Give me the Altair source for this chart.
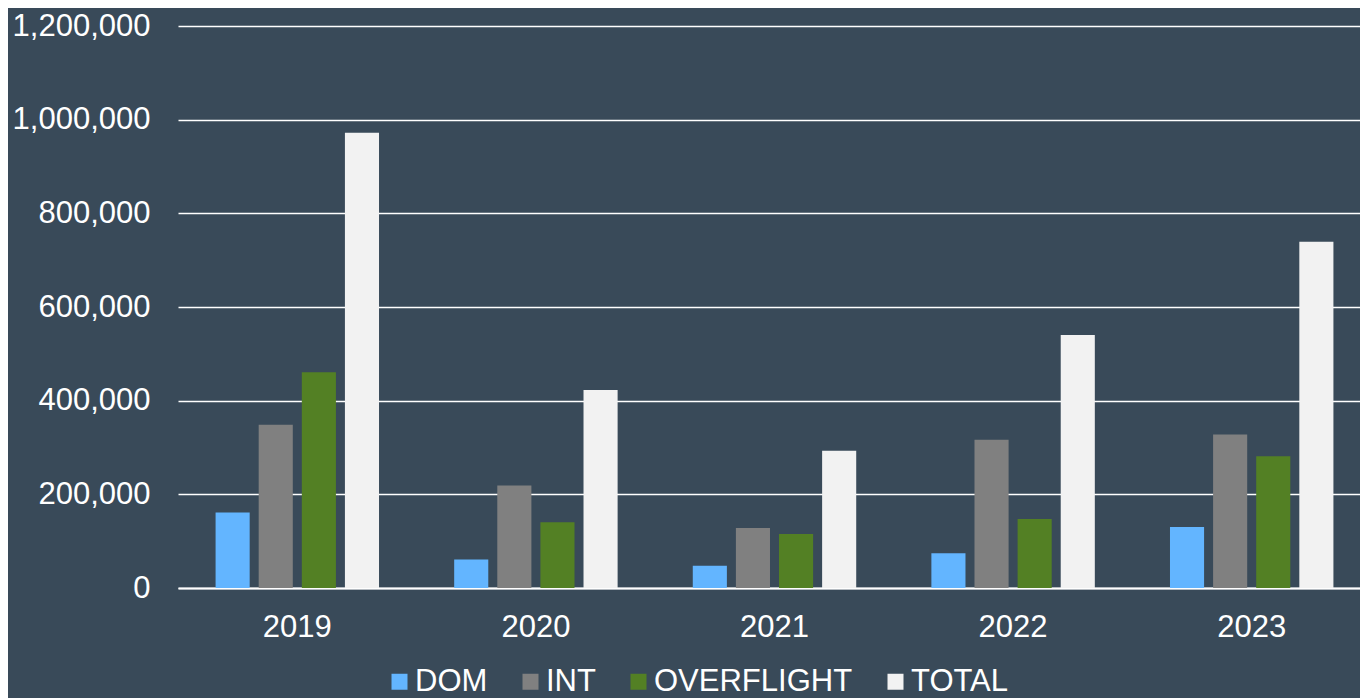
import altair as alt
import pandas as pd

years = ["2019", "2020", "2021", "2022", "2023"]
series = ["DOM", "INT", "OVERFLIGHT", "TOTAL"]
dom = [161000, 61000, 47300, 74300, 130500]
intl = [348400, 219000, 128000, 316300, 327900]
overflight = [460900, 140500, 115300, 147100, 281200]
total = [972300, 422700, 293000, 540000, 739500]
colors = ["#63B5FF", "#808080", "#538024", "#F2F2F2"]
y_ticks = [0, 200000, 400000, 600000, 800000, 1000000, 1200000]

rows = []
for name, vals in zip(series, [dom, intl, overflight, total]):
    for yr, v in zip(years, vals):
        rows.append({"year": yr, "series": name, "value": v})
df = pd.DataFrame(rows)

FONT = "Liberation Sans"

chart = (
    alt.Chart(df)
    .mark_bar()
    .encode(
        x=alt.X(
            "year:N",
            sort=years,
            title=None,
            scale=alt.Scale(paddingInner=0.315, paddingOuter=0.1575, range=[0, 1193]),
            axis=alt.Axis(
                labelAngle=0,
                labelFontSize=31,
                labelColor="#FFFFFF",
                labelFont=FONT,
                labelPadding=24,
                ticks=False,
                domain=True,
                domainColor="#FFFFFF",
                domainWidth=2,
                grid=False,
            ),
        ),
        xOffset=alt.XOffset(
            "series:N",
            sort=series,
            scale=alt.Scale(paddingInner=0.209, paddingOuter=0),
        ),
        y=alt.Y(
            "value:Q",
            title=None,
            scale=alt.Scale(domain=[0, 1200000], nice=False),
            axis=alt.Axis(
                values=y_ticks,
                format=",d",
                labelFontSize=31,
                labelColor="#FFFFFF",
                labelFont=FONT,
                labelPadding=28,
                ticks=False,
                domain=False,
                grid=True,
                gridColor="#FFFFFF",
                gridWidth=1.5,
            ),
        ),
        color=alt.Color(
            "series:N",
            sort=series,
            scale=alt.Scale(domain=series, range=colors),
            legend=alt.Legend(
                title=None,
                orient="none",
                direction="horizontal",
                legendX=206,
                legendY=640,
                padding=0,
                symbolType="square",
                symbolSize=256,
                symbolStrokeWidth=0,
                labelFontSize=31,
                labelFont=FONT,
                labelColor="#FFFFFF",
                labelOffset=0,
                columnPadding=27,
                labelLimit=400,
            ),
        ),
    )
    .properties(
        width=1182,
        height=562,
        background="#394A59",
        padding={"left": 170, "top": 18, "right": 0, "bottom": 112},
        autosize=alt.AutoSizeParams(type="none"),
    )
    .configure_view(stroke=None)
)

chart.save("out.html", embed_options={"renderer": "svg", "actions": False})
